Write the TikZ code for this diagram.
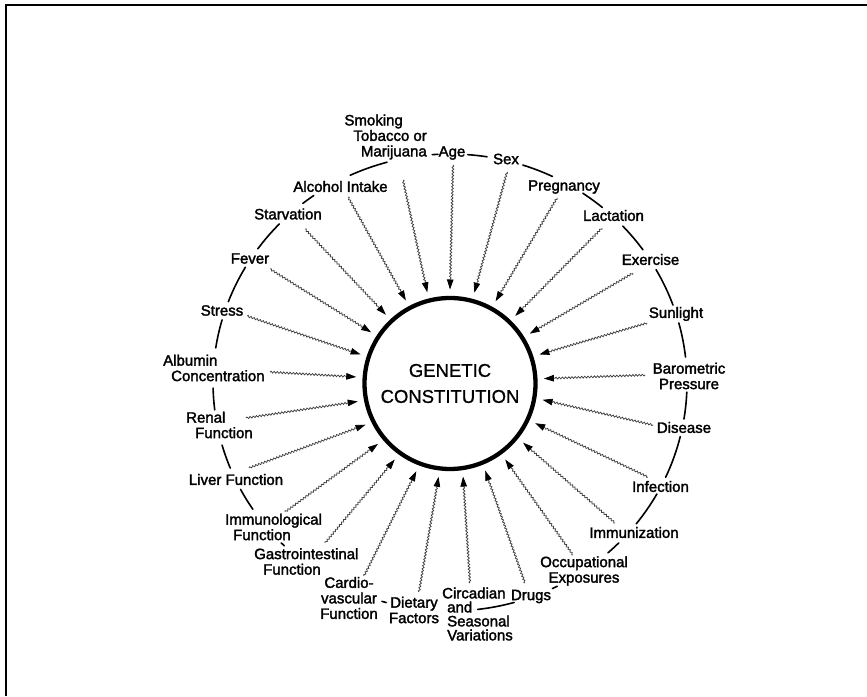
\documentclass[tikz,border=0pt]{standalone}
\usepackage{fontspec}
\setmainfont{Liberation Sans}
\newfontfamily\lblfont{Liberation Sans}[FakeBold=2]
\newfontfamily\corefont{Liberation Sans}[FakeBold=0.8]
\usetikzlibrary{arrows.meta,decorations.pathmorphing}

\tikzset{
  lbl/.style={font=\lblfont\fontsize{15}{15.5}\selectfont, inner sep=1pt},
  ringarc/.style={line width=1.6pt, line cap=round},
  wavy/.style={draw=black!75, line width=0.75pt, decorate,
    decoration={snake, amplitude=0.9pt, segment length=3.2pt, post length=10pt},
    -{Triangle[length=10pt,width=6.5pt,color=black]}},
  core/.style={circle, draw, line width=4.3pt, minimum size=171pt, outer sep=8.5pt,
    font=\corefont\fontsize{18.5}{26}\selectfont, align=center},
}

\begin{document}
\begin{tikzpicture}[x=1pt,y=1pt]
\useasboundingbox (0,0) rectangle (867,696);

% frame
\draw[line width=2pt] (6,0) -- (6,691) -- (867,691);

% central circle
\node[core] (gc) at (450,312.5) {GENETIC\\CONSTITUTION};

% outer ring, broken at the labels
\coordinate (e) at (450,313.5);
\foreach \a/\b in {105.4/114.9, 125.1/128.4, 136.1/144.2, 149.7/159.3, 164.1/171.3,
                   181.4/186.9, 195.9/202, 207.9/213.7, 224.6/225.6, 253.3/254.4,
                   276.7/285.7, 295.6/296.9, 311.8/315.4, 321.8/330.8, 335.5/346.3,
                   350.8/357.6, 6.4/15.1, 19.8/29.6, 35.5/43.2, 50/55.9,
                   64.4/72.1, 81/85.7, 92.9/94.3}
  \draw[ringarc] (e) ++(\a:237pt and 228.5pt)
     arc[start angle=\a, end angle=\b, x radius=237pt, y radius=228.5pt];

% labels
\node[lbl, anchor=east, align=right] (smok) at (428,559) {Smoking\hspace*{24pt}\\Tobacco or\\Marijuana};
\node[lbl] (age) at (452,543) {Age};
\node[lbl] (sex) at (506,537) {Sex};
\node[lbl] (preg) at (564,509) {Pregnancy};
\node[lbl] (lact) at (613.5,480.5) {Lactation};
\node[lbl] (exer) at (650.5,436.5) {Exercise};
\node[lbl] (sun) at (676,382) {Sunlight};
\node[lbl, align=center] (baro) at (689,320) {Barometric\\Pressure};
\node[lbl] (dis) at (684,268.5) {Disease};
\node[lbl] (inf) at (660.5,209.5) {Infection};
\node[lbl] (imz) at (634,163.5) {Immunization};
\node[lbl, align=center] (occ) at (584,125) {Occupational\\Exposures};
\node[lbl] (drugs) at (531,99.5) {Drugs};
\node[lbl, anchor=west, align=left, font=\lblfont\fontsize{15}{14}\selectfont] (circ) at (441,82)
  {Circadian\\\hspace*{5pt}and\\\hspace*{5pt}Seasonal\\\hspace*{5pt}Variations};
\node[lbl, align=center] (diet) at (414,86) {Dietary\\Factors};
\node[lbl, align=center] (cardio) at (349,98) {Cardio-\\vascular\\Function};
\node[lbl, anchor=west, align=left] (gastro) at (253,134.5) {Gastrointestinal\\\hspace*{9pt}Function};
\node[lbl, anchor=west, align=left] (immunol) at (224,169) {Immunological\\\hspace*{8pt}Function};
\node[lbl] (liver) at (236,216.5) {Liver Function};
\node[lbl, anchor=west, align=left] (renal) at (185,271) {Renal\\\hspace*{9pt}Function};
\node[lbl, anchor=west, align=left] (alb) at (162,328) {Albumin\\\hspace*{8pt}Concentration};
\node[lbl] (stress) at (222,385.5) {Stress};
\node[lbl] (fever) at (250,437.5) {Fever};
\node[lbl] (starv) at (288,482) {Starvation};
\node[lbl] (alc) at (340.5,509.5) {Alcohol Intake};

% tails of the influence arrows
\coordinate (tSmok) at (403,516);
\coordinate (tAge) at (453,531);
\coordinate (tSex) at (507,524);
\coordinate (tPreg) at (557,498);
\coordinate (tLact) at (602,468);
\coordinate (tExer) at (633,423);
\coordinate (tSun) at (647,373);
\coordinate (tBaro) at (645,321);
\coordinate (tDis) at (653,271);
\coordinate (tInf) at (648,219);
\coordinate (tImz) at (615,173);
\coordinate (tOcc) at (573,141);
\coordinate (tDrugs) at (525,113);
\coordinate (tCirc) at (470,113);
\coordinate (tDiet) at (419,104);
\coordinate (tCardio) at (364,120);
\coordinate (tGastro) at (325,153);
\coordinate (tImmunol) at (285,184);
\coordinate (tLiver) at (249,228);
\coordinate (tRenal) at (246,278);
\coordinate (tAlb) at (270,324);
\coordinate (tStress) at (247,380);
\coordinate (tFever) at (270,427);
\coordinate (tStarv) at (305,467);
\coordinate (tAlc) at (348,499);

% wavy arrows into the central circle
\foreach \t/\a in {tAge/90, tSex/75.6, tPreg/61.2, tLact/46.8, tExer/32.4, tSun/18,
                   tBaro/3.6, tDis/-10.8, tInf/-25.2, tImz/-39.6, tOcc/-54, tDrugs/-68.4,
                   tCirc/-82.8, tDiet/-97.2, tCardio/-111.6, tGastro/-126, tImmunol/-140.4,
                   tLiver/-154.8, tRenal/-169.2, tAlb/176.4, tStress/162, tFever/147.6,
                   tStarv/133.2, tAlc/118.8, tSmok/104.4}
  \draw[wavy] (\t) -- (gc.\a);
\end{tikzpicture}
\end{document}
